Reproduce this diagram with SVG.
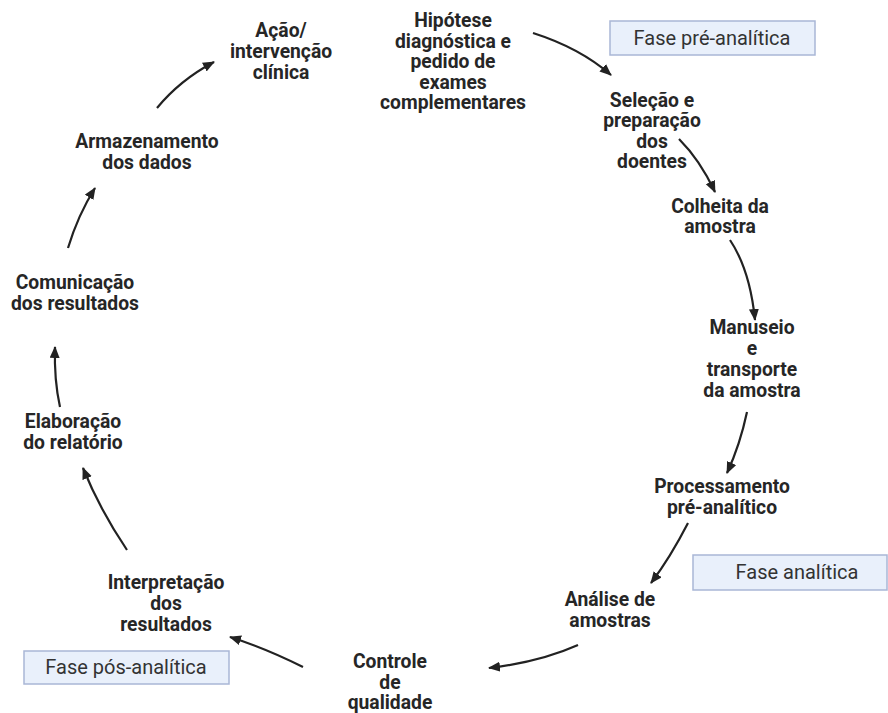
<svg xmlns="http://www.w3.org/2000/svg" width="888" height="713" viewBox="0 0 888 713">
<defs>
<style>
.n{font-family:Roboto,"Liberation Sans",sans-serif;font-weight:700;font-size:19.3px;fill:#262626;text-anchor:middle}
.p{font-family:Roboto,"Liberation Sans",sans-serif;font-weight:400;font-size:20px;fill:#333;text-anchor:middle}
.box{fill:#e9f0fb;stroke:#a9b7d6;stroke-width:1.5}
.c{fill:none;stroke:#222;stroke-width:2.2;marker-end:url(#ah)}
</style>
<marker id="ah" markerUnits="userSpaceOnUse" markerWidth="14" markerHeight="12" refX="11" refY="5" orient="auto">
<path d="M0,0 L12,5 L0,10 Z" fill="#222"/>
</marker>
</defs>
<rect width="888" height="713" fill="#fff"/>
<g id="phases">
<g id="fase-pre"><rect class="box" x="610" y="21" width="205" height="34"/><text class="p" x="712" y="45">Fase pré-analítica</text></g>
<g id="fase-analitica"><rect class="box" x="693" y="555" width="194" height="35"/><text class="p" x="797" y="579">Fase analítica</text></g>
<g id="fase-pos"><rect class="box" x="24" y="651" width="205" height="33"/><text class="p" x="126" y="674">Fase pós-analítica</text></g>
</g>
<g id="connectors">
<path class="c" d="M157,108 Q180,80 214,62"/>
<path class="c" d="M533,33 Q580,48 611,75"/>
<path class="c" d="M679,139 Q700,160 715,192"/>
<path class="c" d="M730,240 Q750,270 755,320"/>
<path class="c" d="M747,412 Q740,445 727,473"/>
<path class="c" d="M688,523 Q670,558 651,583"/>
<path class="c" d="M578,645 Q540,662 489,668"/>
<path class="c" d="M303,667 Q265,648 230,637"/>
<path class="c" d="M127,550 Q100,510 83,468"/>
<path class="c" d="M60,407 Q54,380 55,347"/>
<path class="c" d="M68,248 Q78,215 95,188"/>
</g>
<g id="n-acao"><text class="n" x="281" y="37">Ação/</text><text class="n" x="281" y="58">intervenção</text><text class="n" x="281" y="79">clínica</text></g>
<g id="n-hipotese"><text class="n" x="453" y="27">Hipótese</text><text class="n" x="453" y="48">diagnóstica e</text><text class="n" x="453" y="68">pedido de</text><text class="n" x="453" y="89">exames</text><text class="n" x="453" y="109">complementares</text></g>
<g id="n-selecao"><text class="n" x="652" y="107">Seleção e</text><text class="n" x="652" y="127">preparação</text><text class="n" x="652" y="148">dos</text><text class="n" x="652" y="168">doentes</text></g>
<g id="n-colheita"><text class="n" x="720" y="213">Colheita da</text><text class="n" x="720" y="233">amostra</text></g>
<g id="n-manuseio"><text class="n" x="752" y="334">Manuseio</text><text class="n" x="752" y="355">e</text><text class="n" x="752" y="376">transporte</text><text class="n" x="752" y="397">da amostra</text></g>
<g id="n-processamento"><text class="n" x="722" y="493">Processamento</text><text class="n" x="722" y="514">pré-analítico</text></g>
<g id="n-analise"><text class="n" x="610" y="606">Análise de</text><text class="n" x="610" y="627">amostras</text></g>
<g id="n-controle"><text class="n" x="390" y="668">Controle</text><text class="n" x="390" y="689">de</text><text class="n" x="390" y="709">qualidade</text></g>
<g id="n-interpretacao"><text class="n" x="166" y="589">Interpretação</text><text class="n" x="166" y="610">dos</text><text class="n" x="166" y="631">resultados</text></g>
<g id="n-elaboracao"><text class="n" x="73" y="428">Elaboração</text><text class="n" x="73" y="449">do relatório</text></g>
<g id="n-comunicacao"><text class="n" x="75" y="289">Comunicação</text><text class="n" x="75" y="310">dos resultados</text></g>
<g id="n-armazenamento"><text class="n" x="147" y="148">Armazenamento</text><text class="n" x="147" y="169">dos dados</text></g>
</svg>
